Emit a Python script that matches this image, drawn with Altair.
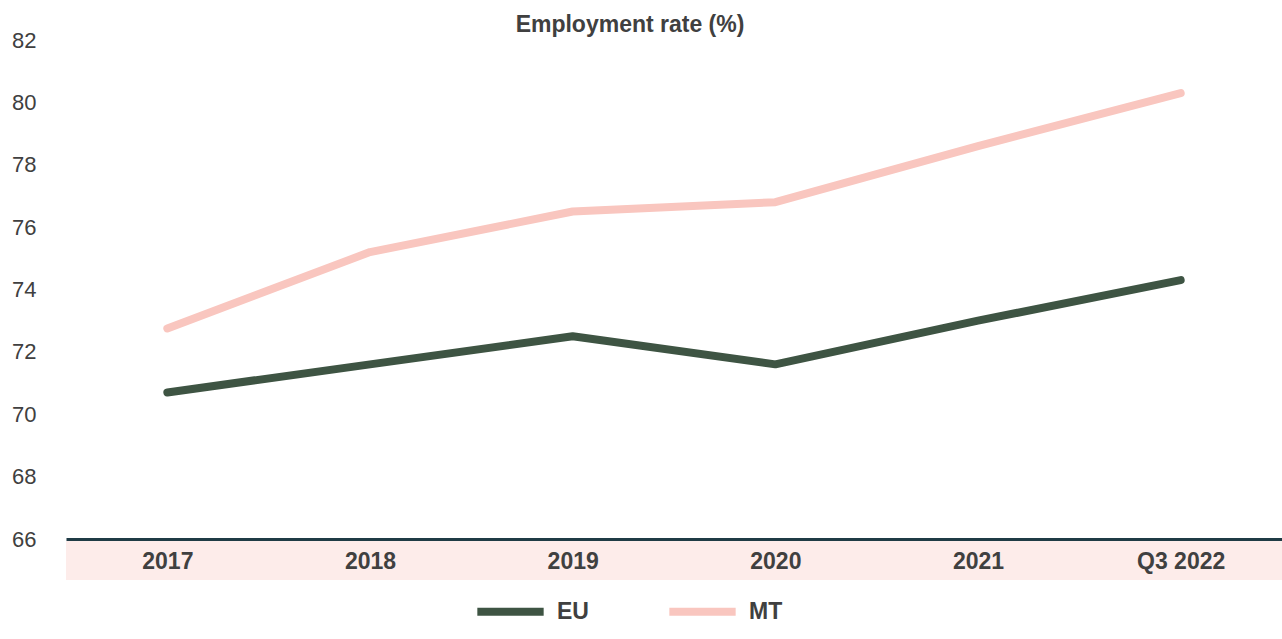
import altair as alt
import pandas as pd

periods = ["2017", "2018", "2019", "2020", "2021", "Q3 2022"]
eu_values = [70.7, 71.6, 72.5, 71.6, 73.0, 74.3]
mt_values = [72.75, 75.2, 76.5, 76.8, 78.6, 80.3]
series_names = ["EU", "MT"]
series_colors = ["#3e5443", "#f9c6bf"]

rows = []
for name, vals in zip(series_names, [eu_values, mt_values]):
    for p, v in zip(periods, vals):
        rows.append({"period": p, "value": v, "series": name})
df = pd.DataFrame(rows)

FONT = "Liberation Sans"
TXT = "#404040"

band = alt.Chart(pd.DataFrame({"a": [0]})).mark_rect(color="#fdecea", clip=False).encode(
    x=alt.value(0), x2=alt.value(1216), y=alt.value(501), y2=alt.value(540)
)

lines = alt.Chart(df).mark_line(strokeWidth=8, strokeCap="round", strokeJoin="round").encode(
    x=alt.X("period:O", sort=periods, scale=alt.Scale(type="point", padding=0.5),
            axis=alt.Axis(title=None, labelAngle=0, labelFont=FONT, labelFontSize=23,
                          labelFontWeight="bold", labelColor=TXT, ticks=False,
                          labelPadding=11, domainColor="#1f3b45", domainWidth=3,
                          grid=False, zindex=2)),
    y=alt.Y("value:Q", scale=alt.Scale(domain=[66, 82], nice=False, zero=False),
            axis=alt.Axis(title=None, values=list(range(66, 83, 2)), labelFont=FONT,
                          labelFontSize=22, labelColor=TXT, ticks=False, domain=False,
                          grid=False, labelPadding=30)),
    color=alt.Color("series:N", scale=alt.Scale(domain=series_names, range=series_colors),
                    legend=alt.Legend(title=None, orient="none", legendX=407, legendY=534,
                                      direction="horizontal", symbolType="stroke",
                                      symbolStrokeWidth=8, symbolSize=4400,
                                      labelFont=FONT, labelFontSize=23, labelFontWeight="bold",
                                      labelColor=TXT, labelOffset=9, columnPadding=64)),
)

chart = alt.layer(band, lines).properties(
    width=1216, height=499,
    padding={"left": 66, "top": 40, "right": 0, "bottom": 100},
    autosize=alt.AutoSizeParams(type="none"),
    title=alt.TitleParams("Employment rate (%)", font=FONT, fontSize=23, fontWeight="bold",
                          color=TXT, anchor="middle", offset=-8, dx=-44),
).configure_view(stroke=None)

chart.save("out.html", embed_options={"renderer": "svg", "actions": False})
